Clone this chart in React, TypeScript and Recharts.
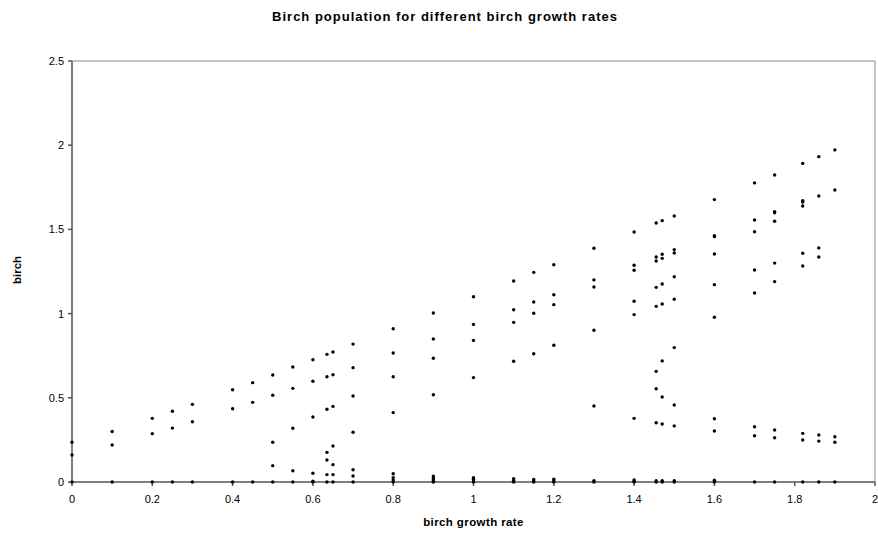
import { ScatterChart, Scatter, XAxis, YAxis, ReferenceLine } from 'recharts';

// birch growth rates that were simulated
const growthRates = [
  0, 0.1, 0.2, 0.25, 0.3, 0.4, 0.45, 0.5, 0.55, 0.6, 0.635, 0.65, 0.7, 0.8, 0.9,
  1.0, 1.1, 1.15, 1.2, 1.3, 1.4, 1.455, 1.47, 1.5, 1.6, 1.7, 1.75, 1.82, 1.86, 1.9,
];

// birch population values seen for each growth rate (same order as growthRates)
const birchValues = [
  [0.236, 0.16, 0],
  [0.3, 0.22, 0],
  [0.378, 0.287, 0],
  [0.42, 0.32, 0],
  [0.461, 0.358, 0],
  [0.548, 0.435, 0],
  [0.59, 0.473, 0],
  [0.635, 0.515, 0.236, 0.097, 0],
  [0.683, 0.556, 0.319, 0.067, 0],
  [0.726, 0.598, 0.386, 0.052, 0.005, 0],
  [0.758, 0.625, 0.432, 0.176, 0.131, 0.044, 0],
  [0.772, 0.637, 0.449, 0.214, 0.103, 0.044, 0],
  [0.819, 0.679, 0.511, 0.295, 0.073, 0.036, 0],
  [0.91, 0.766, 0.625, 0.412, 0.049, 0.026, 0.012, 0],
  [1.004, 0.849, 0.735, 0.518, 0.035, 0.025, 0.014, 0.005, 0],
  [1.1, 0.936, 0.841, 0.62, 0.025, 0.016, 0.006, 0],
  [1.194, 1.023, 0.948, 0.717, 0.02, 0.01, 0],
  [1.245, 1.069, 1.002, 0.762, 0.015, 0.006, 0],
  [1.29, 1.112, 1.053, 0.812, 0.016, 0.006, 0],
  [1.388, 1.2, 1.158, 0.901, 0.451, 0.008, 0],
  [1.485, 1.287, 1.257, 1.073, 0.994, 0.378, 0.012, 0.004, 0],
  [1.538, 1.336, 1.312, 1.156, 1.043, 0.657, 0.554, 0.352, 0.008, 0],
  [1.552, 1.352, 1.328, 1.176, 1.057, 0.719, 0.505, 0.344, 0.008, 0],
  [1.58, 1.38, 1.36, 1.219, 1.085, 0.798, 0.457, 0.333, 0.008, 0],
  [1.677, 1.463, 1.457, 1.354, 1.172, 0.978, 0.376, 0.303, 0.01, 0],
  [1.776, 1.556, 1.486, 1.259, 1.122, 0.328, 0.275, 0],
  [1.823, 1.605, 1.599, 1.548, 1.3, 1.19, 0.309, 0.263, 0],
  [1.892, 1.671, 1.663, 1.639, 1.358, 1.283, 0.289, 0.249, 0],
  [1.932, 1.698, 1.39, 1.336, 0.279, 0.243, 0],
  [1.972, 1.734, 0.269, 0.236, 0],
];

const xTicks = [0, 0.2, 0.4, 0.6, 0.8, 1, 1.2, 1.4, 1.6, 1.8, 2];
const yTicks = [0, 0.5, 1, 1.5, 2, 2.5];

const points = growthRates.flatMap((rate, i) =>
  birchValues[i].map((b) => ({ rate, birch: b }))
);

const font = '"Liberation Sans", Arial, sans-serif';

const Dot = (props: any) => {
  const { cx, cy } = props;
  if (cx == null || cy == null) return null;
  return <circle cx={cx} cy={cy} r={1.7} fill="#000" />;
};

export default function App() {
  return (
    <div style={{ position: 'absolute', left: 0, top: 0, width: 878, height: 537, background: '#fff', fontFamily: font }}>
      <div
        style={{
          position: 'absolute', left: 0, width: 890, top: 9, textAlign: 'center',
          fontSize: 13, fontWeight: 'bold', color: '#000', letterSpacing: 1,
        }}
      >
        Birch population for different birch growth rates
      </div>
      <div
        style={{
          position: 'absolute', left: 72, width: 803, top: 516, textAlign: 'center',
          fontSize: 11.5, fontWeight: 'bold', color: '#000', letterSpacing: 0.4,
        }}
      >
        birch growth rate
      </div>
      <div
        style={{
          position: 'absolute', left: -33, top: 264, width: 100, textAlign: 'center',
          fontSize: 11.5, fontWeight: 'bold', color: '#000', transform: 'rotate(-90deg)',
        }}
      >
        birch
      </div>
      <ScatterChart width={878} height={537} margin={{ top: 61, right: 3, bottom: 25, left: 0 }}>
        <XAxis
          type="number"
          dataKey="rate"
          domain={[0, 2]}
          ticks={xTicks}
          interval={0}
          height={30}
          stroke="#555"
          strokeWidth={1.5}
          tickSize={4}
          tickMargin={9}
          tick={{ fill: '#000', fontSize: 11, fontFamily: font }}
        />
        <YAxis
          type="number"
          dataKey="birch"
          domain={[0, 2.5]}
          ticks={yTicks}
          interval={0}
          width={72}
          stroke="#555"
          strokeWidth={1.5}
          tickSize={4}
          tickMargin={4}
          tick={{ fill: '#000', fontSize: 11, fontFamily: font }}
        />
        <ReferenceLine y={2.5} stroke="#888" strokeWidth={1} />
        <ReferenceLine x={2} stroke="#888" strokeWidth={1} />
        <Scatter data={points} shape={Dot} isAnimationActive={false} />
      </ScatterChart>
    </div>
  );
}
